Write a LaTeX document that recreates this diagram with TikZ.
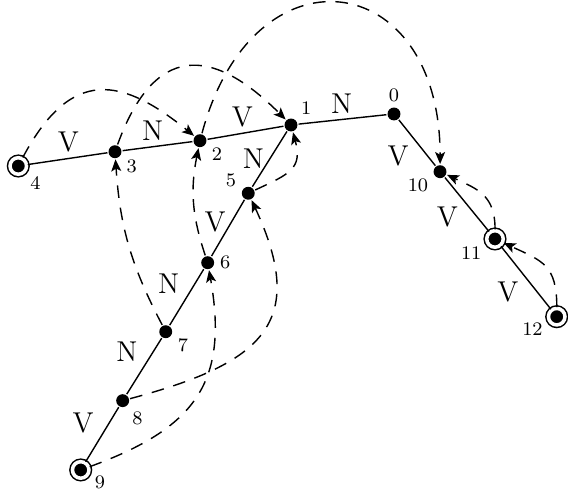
\documentclass[tikz,border=0pt]{standalone}
\usepackage{tikz}
\usetikzlibrary{arrows.meta}
\tikzset{
  st/.style={circle, fill=black, inner sep=0pt, minimum size=1.9mm},
  fin/.style={st, draw=black, line width=1.07pt, double=white, double distance=2.5pt, minimum size=2.43mm},
  num/.style={font=\footnotesize, inner sep=1.5pt},
  lbl/.style={font=\large, inner sep=2pt},
  jump/.style={-{Stealth[length=3mm, width=2.5mm, inset=0.7mm]}, line width=1pt, dash pattern=on 9pt off 7pt},
}

\begin{document}
\begin{tikzpicture}[scale=1.7, transform shape, line width=1pt]
  \useasboundingbox (0,0) rectangle (8.353,7.235);
  % states
  \node[st, label={[num]90:0}] (s0) at (5.794,5.559) {};
  \node[st, label={[num]45:1}] (s1) at (4.279,5.397) {};
  \node[st, label={[num]-20:2}] (s2) at (2.941,5.166) {};
  \node[st, label={[num]-25:3}] (s3) at (1.691,5.004) {};
  \node[fin, label={[num]-40:4}] (s4) at (0.269,4.794) {};
  \node[st, label={[num]170:5}] (s5) at (3.651,4.393) {};
  \node[st, label={[num]0:6}] (s6) at (3.054,3.372) {};
  \node[st, label={[num]-15:7}] (s7) at (2.437,2.357) {};
  \node[st, label={[num]-50:8}] (s8) at (1.804,1.343) {};
  \node[fin, label={[num]-8:9}] (s9) at (1.187,0.324) {};
  \node[st, label={[num]200:10}] (s10) at (6.471,4.710) {};
  \node[fin, label={[num]200:11}] (s11) at (7.279,3.721) {};
  \node[fin, label={[num]188:12}] (s12) at (8.187,2.578) {};
  % transitions
  \draw (s4) -- node[lbl, pos=0.51, above] (e43) {V} (s3);
  \draw (s3) -- node[lbl, pos=0.43, above] (e32) {N} (s2);
  \draw (s2) -- node[lbl, pos=0.46, above] (e21) {V} (s1);
  \draw (s1) -- node[lbl, pos=0.49, above] (e10) {N} (s0);
  \draw (s0) -- node[lbl, pos=0.43, below left] (e0a) {V} (s10);
  \draw (s10) -- node[lbl, pos=0.43, below left] (eab) {V} (s11);
  \draw (s11) -- node[lbl, pos=0.47, below left] (ebc) {V} (s12);
  \draw (s1) -- node[lbl, pos=0.49, left] (e15) {N} (s5);
  \draw (s5) -- node[lbl, pos=0.39, left] (e56) {V} (s6);
  \draw (s6) -- node[lbl, pos=0.55, above left] (e67) {N} (s7);
  \draw (s7) -- node[lbl, pos=0.52, above left] (e78) {N} (s8);
  \draw (s8) -- node[lbl, pos=0.58, above left] (e89) {V} (s9);
  % jumps
  \draw[jump] (s4) to[out=62, in=141, out looseness=1.55, in looseness=1.35] (s2);
  \draw[jump] (s3) to[out=70, in=135, looseness=1.6] (s1);
  \draw[jump] (s2) to[out=75, in=90, looseness=2.1] (s10);
  \draw[jump] (s5) to[out=25, in=-75, looseness=1.4] (s1);
  \draw[jump] (s6) to[bend left=15] (s2);
  \draw[jump] (s7) to[bend left=12] (s3);
  \draw[jump] (s8) to[out=15, in=-65, looseness=1.5] (s5);
  \draw[jump] (s9) to[out=20, in=-80, looseness=1.26] (s6);
  \draw[jump] (s11) to[out=90, in=-25, looseness=1.2] (s10);
  \draw[jump] (s12) to[out=90, in=-25, looseness=1.3] (s11);
\end{tikzpicture}
\end{document}
